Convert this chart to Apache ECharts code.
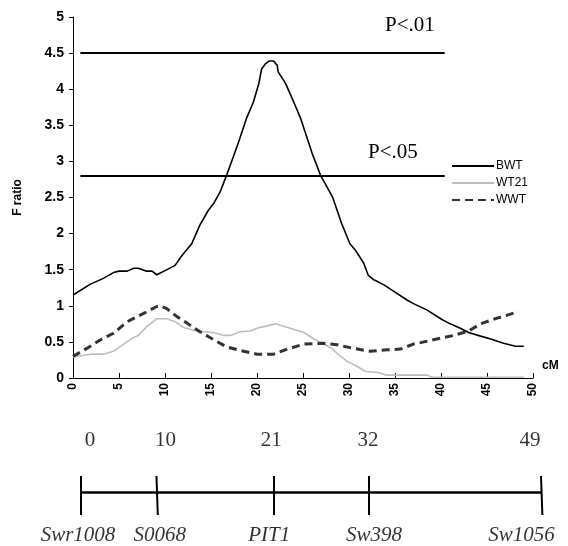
<!DOCTYPE html>
<html>
<head>
<meta charset="utf-8">
<title>F ratio</title>
<script src="https://cdn.jsdelivr.net/npm/echarts@6/dist/echarts.min.js"></script>
<style>
html, body { margin: 0; padding: 0; background: #fff; }
#chart { width: 568px; height: 546px; }
</style>
</head>
<body>
<div id="chart"></div>
<script>
// F ratio curves (cM, F)
const bwtCM = [0, 1.9, 3.3, 4.4, 5.0, 5.9, 6.6, 7.1, 8.0, 8.6, 9.1, 9.9, 11.1, 11.8, 12.9, 13.8, 14.7, 15.3, 16.0, 16.7, 17.3, 18.0, 18.9, 19.6, 20.2, 20.5, 20.9, 21.3, 21.8, 22.2, 22.3, 23.1, 24.0, 24.7, 25.4, 26.0, 26.9, 28.2, 29.2, 30.1, 30.7, 31.6, 32.1, 32.7, 33.8, 35.0, 36.3, 37.0, 38.5, 40.1, 41.0, 42.1, 43.0, 44.3, 45.4, 46.8, 48.1, 49.0]
const bwtF = [1.15, 1.30, 1.38, 1.46, 1.48, 1.48, 1.52, 1.52, 1.48, 1.48, 1.43, 1.48, 1.56, 1.69, 1.86, 2.12, 2.32, 2.42, 2.58, 2.81, 3.02, 3.27, 3.61, 3.82, 4.08, 4.28, 4.35, 4.39, 4.39, 4.33, 4.24, 4.08, 3.82, 3.61, 3.34, 3.11, 2.81, 2.51, 2.14, 1.86, 1.77, 1.59, 1.42, 1.36, 1.29, 1.19, 1.08, 1.03, 0.94, 0.81, 0.75, 0.69, 0.63, 0.58, 0.54, 0.48, 0.44, 0.44]

const wt21CM = [0, 1.9, 3.3, 4.4, 5.5, 6.4, 7.1, 8.0, 9.1, 10.2, 11.1, 12.0, 13.1, 14.2, 15.3, 16.4, 17.1, 18.2, 19.3, 20.0, 22.0, 23.6, 25.1, 26.2, 28.0, 29.1, 29.8, 30.9, 31.8, 33.0, 34.1, 38.5, 39.0, 49.0]
const wt21F = [0.29, 0.33, 0.33, 0.37, 0.47, 0.55, 0.59, 0.71, 0.82, 0.82, 0.78, 0.70, 0.66, 0.64, 0.63, 0.59, 0.59, 0.64, 0.65, 0.69, 0.75, 0.69, 0.63, 0.54, 0.42, 0.30, 0.23, 0.16, 0.09, 0.08, 0.04, 0.04, 0.01, 0.01]

const wwtCM = [0, 1.5, 3.0, 4.4, 5.9, 7.3, 9.1, 9.5, 10.2, 11.3, 12.4, 13.8, 15.3, 16.7, 18.2, 20.0, 21.8, 23.3, 25.1, 27.2, 28.7, 30.5, 32.3, 34.1, 35.6, 37.0, 37.8, 39.9, 41.4, 43.0, 44.3, 46.1, 47.2, 48.4]
const wwtF = [0.30, 0.41, 0.53, 0.62, 0.78, 0.87, 0.99, 1.00, 0.96, 0.85, 0.76, 0.64, 0.53, 0.43, 0.38, 0.33, 0.33, 0.40, 0.47, 0.48, 0.46, 0.41, 0.37, 0.39, 0.40, 0.47, 0.49, 0.55, 0.59, 0.65, 0.75, 0.83, 0.87, 0.92]

// significance thresholds
const thresholdNames = ['P<.01', 'P<.05']
const thresholdValues = [4.5, 2.8]
const thresholdFrom = 0.8
const thresholdTo = 40.4

// linkage map
const markerNames = ['Swr1008', 'S0068', 'PIT1', 'Sw398', 'Sw1056']
const markerCM = [0, 10, 21, 32, 49]
const markerDrawn = [0, 8.2, 20.9, 31.3, 50] // where the ticks sit on the drawing
const markerTilt = [0, 0.15, 0, 0, 0.15]

const xTicks = [0, 50, 5]
const yTicks = [0, 5, 0.5]

const pair = (xs, ys) => xs.map((x, i) => [x, ys[i]])

const sans = 'Liberation Sans, Arial, sans-serif'
const serif = 'Liberation Serif, Times New Roman, serif'

const numberDx = [9, 9, -2, -1, -11]
const nameDx = [-3, 2, -4, 5, -21]

const chart = echarts.init(document.getElementById('chart'))

chart.setOption({
  animation: false,
  backgroundColor: '#fff',
  grid: [
    { left: 73, right: 35, top: 17, bottom: 168 },
    // map: 9.2 px per unit, 0 at x=81
    { left: 81, right: 17.8, top: 476, height: 39 }
  ],
  legend: {
    orient: 'vertical',
    left: 446,
    top: 155,
    itemWidth: 42,
    itemHeight: 14,
    itemGap: 5,
    data: ['BWT', 'WT21', 'WWT'],
    itemStyle: { color: 'rgba(0,0,0,0)', borderWidth: 0 },
    textStyle: { fontFamily: sans, fontSize: 12, color: '#000', padding: [0, 0, 0, -3] }
  },
  xAxis: [
    {
      type: 'value',
      min: xTicks[0],
      max: xTicks[1],
      interval: xTicks[2],
      name: 'cM',
      nameLocation: 'end',
      nameGap: 9,
      nameTextStyle: {
        fontFamily: sans, fontWeight: 'bold', fontSize: 12, color: '#000',
        align: 'left', verticalAlign: 'bottom', padding: [0, 0, 6, 0]
      },
      splitLine: { show: false },
      axisLine: { onZero: false, lineStyle: { color: '#000', width: 1 } },
      axisTick: { inside: true, length: 5, lineStyle: { color: '#000' } },
      axisLabel: {
        rotate: 90,
        margin: 5,
        fontFamily: sans,
        fontWeight: 'bold',
        fontSize: 12,
        color: '#000'
      }
    },
    { gridIndex: 1, type: 'value', min: 0, max: 51, show: false }
  ],
  yAxis: [
    {
      type: 'value',
      min: yTicks[0],
      max: yTicks[1],
      interval: yTicks[2],
      name: 'F ratio',
      nameLocation: 'middle',
      nameGap: 49,
      nameTextStyle: { fontFamily: sans, fontWeight: 'bold', fontSize: 12, color: '#000' },
      splitLine: { show: false },
      axisLine: { show: true, lineStyle: { color: '#000', width: 1 } },
      axisTick: { show: true, length: 4, lineStyle: { color: '#000' } },
      axisLabel: {
        margin: 9,
        fontFamily: sans,
        fontWeight: 'bold',
        fontSize: 14,
        color: '#000'
      }
    },
    { gridIndex: 1, type: 'value', min: -1.15, max: 0.85, show: false }
  ],
  graphic: [
    {
      type: 'text',
      left: 385,
      top: 15,
      style: { text: thresholdNames[0], font: '21px ' + serif, fill: '#000' }
    },
    {
      type: 'text',
      left: 368,
      top: 142,
      style: { text: thresholdNames[1], font: '21px ' + serif, fill: '#000' }
    }
  ],
  series: [
    {
      name: 'BWT',
      type: 'line',
      data: pair(bwtCM, bwtF),
      symbol: 'none',
      color: '#000',
      lineStyle: { color: '#000', width: 1.6 },
      z: 4,
      markLine: {
        silent: true,
        symbol: ['none', 'none'],
        label: { show: false },
        lineStyle: { color: '#000', width: 2, type: 'solid' },
        data: thresholdValues.map(v => [
          { coord: [thresholdFrom, v] },
          { coord: [thresholdTo, v] }
        ])
      }
    },
    {
      name: 'WT21',
      type: 'line',
      data: pair(wt21CM, wt21F),
      symbol: 'none',
      color: '#bdbdbd',
      lineStyle: { color: '#bdbdbd', width: 1.6 },
      z: 2
    },
    {
      name: 'WWT',
      type: 'line',
      data: pair(wwtCM, wwtF),
      symbol: 'none',
      color: '#333',
      lineStyle: { color: '#333', width: 3, type: [8, 5] },
      z: 3
    },
    {
      // map bar with marker ticks
      type: 'line',
      xAxisIndex: 1,
      yAxisIndex: 1,
      data: [[0, 0], [50, 0]],
      symbol: 'none',
      lineStyle: { color: '#000', width: 2.5 },
      markLine: {
        silent: true,
        symbol: ['none', 'none'],
        label: { show: false },
        lineStyle: { color: '#000', width: 2, type: 'solid' },
        data: markerDrawn.map((p, i) => [
          { coord: [p, 0.85] },
          { coord: [p + markerTilt[i], -1.15] }
        ])
      }
    },
    {
      type: 'scatter',
      xAxisIndex: 1,
      yAxisIndex: 1,
      symbolSize: 0,
      silent: true,
      data: markerDrawn.map((p, i) => ({
        value: [p, 0.85],
        label: { offset: [numberDx[i], -36] }
      })),
      label: {
        show: true,
        position: 'inside',
        formatter: p => String(markerCM[p.dataIndex]),
        fontFamily: serif,
        fontSize: 21,
        color: '#000'
      }
    },
    {
      type: 'scatter',
      xAxisIndex: 1,
      yAxisIndex: 1,
      symbolSize: 0,
      silent: true,
      data: markerDrawn.map((p, i) => ({
        value: [p + markerTilt[i], -1.15],
        label: { offset: [nameDx[i], 20] }
      })),
      label: {
        show: true,
        position: 'inside',
        formatter: p => markerNames[p.dataIndex],
        fontFamily: serif,
        fontStyle: 'italic',
        fontSize: 21,
        color: '#000'
      }
    }
  ]
})
</script>
</body>
</html>
